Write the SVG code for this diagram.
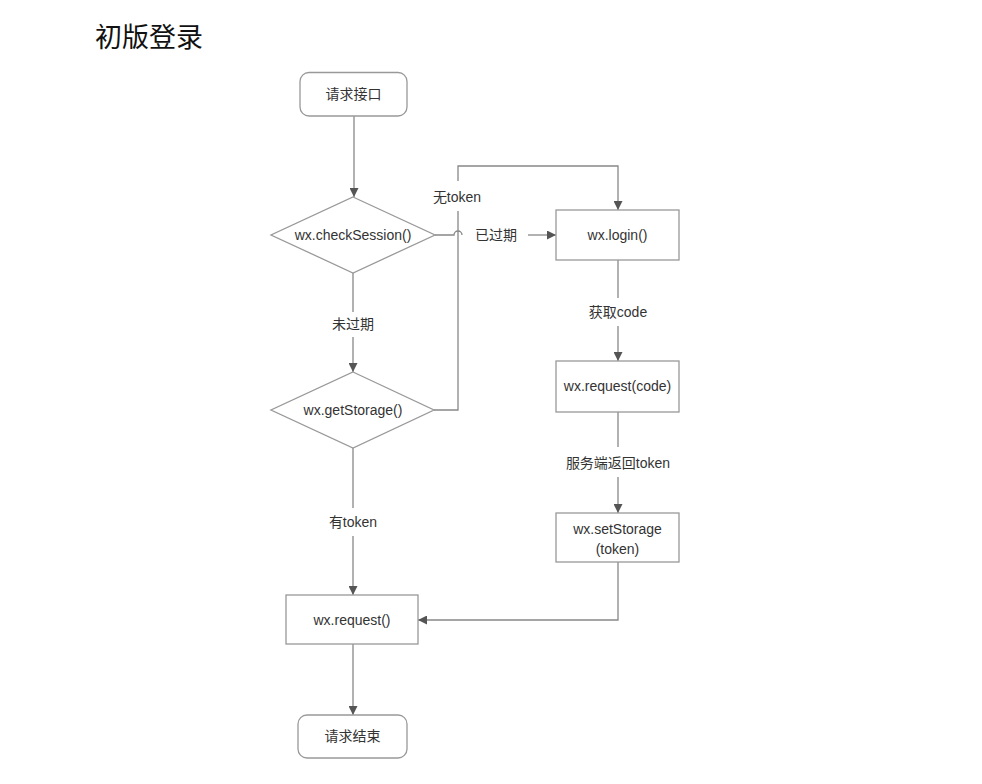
<svg xmlns="http://www.w3.org/2000/svg" width="982" height="784" viewBox="0 0 982 784">
<defs>
<marker id="arr" markerUnits="userSpaceOnUse" markerWidth="10" markerHeight="9" refX="9" refY="4.5" orient="auto">
<path d="M0,0 L9,4.5 L0,9 z" fill="#555"/>
</marker>
<style>
.box{fill:#fff;stroke:#999;stroke-width:1.3}
.t{font-family:"Liberation Sans","Noto Sans CJK SC",sans-serif;font-size:14px;fill:#333;text-anchor:middle}
.c{fill:none;stroke:#888;stroke-width:1.3}
.title{font-family:"Liberation Serif","Noto Sans CJK SC",serif;font-size:27px;fill:#111}
</style>
</defs>
<rect width="982" height="784" fill="#fff"/>
<text class="title" x="95" y="47">初版登录</text>
<g id="connectors">
<path class="c" d="M354,116 V197" marker-end="url(#arr)"/>
<path class="c" d="M435,235 H454 A4,4 0 0 1 462,235"/>
<path class="c" d="M528,235 H556" marker-end="url(#arr)"/>
<path class="c" d="M353,273 V312"/>
<path class="c" d="M353,337 V372" marker-end="url(#arr)"/>
<path class="c" d="M434,410 H458 V211"/>
<path class="c" d="M458,181 V166 H618 V210" marker-end="url(#arr)"/>
<path class="c" d="M353,448 V508"/>
<path class="c" d="M353,536 V595" marker-end="url(#arr)"/>
<path class="c" d="M353,644 V715" marker-end="url(#arr)"/>
<path class="c" d="M618,260 V298"/>
<path class="c" d="M618,326 V361" marker-end="url(#arr)"/>
<path class="c" d="M618,412 V447"/>
<path class="c" d="M618,477 V513" marker-end="url(#arr)"/>
<path class="c" d="M618,562 V620 H418" marker-end="url(#arr)"/>
<text class="t" x="496" y="240">已过期</text>
<text class="t" x="457" y="202">无token</text>
<text class="t" x="353" y="329">未过期</text>
<text class="t" x="353" y="527">有token</text>
<text class="t" x="618" y="317">获取code</text>
<text class="t" x="618" y="468">服务端返回token</text>
</g>
<g id="start">
<rect class="box" x="300" y="72.5" width="107" height="43.5" rx="9"/>
<text class="t" x="353.5" y="99">请求接口</text>
</g>
<g id="checkSession">
<polygon class="box" points="353,197 435,235 353,273 271,235"/>
<text class="t" x="353" y="240">wx.checkSession()</text>
</g>
<g id="getStorage">
<polygon class="box" points="353,372 434,410 353,448 271,410"/>
<text class="t" x="353" y="415">wx.getStorage()</text>
</g>
<g id="login">
<rect class="box" x="556" y="210" width="123" height="50"/>
<text class="t" x="617.5" y="240">wx.login()</text>
</g>
<g id="requestCode">
<rect class="box" x="556" y="361" width="123" height="51"/>
<text class="t" x="617.5" y="391">wx.request(code)</text>
</g>
<g id="setStorage">
<rect class="box" x="556" y="513" width="123" height="49"/>
<text class="t" x="617.5" y="534">wx.setStorage</text>
<text class="t" x="617.5" y="554">(token)</text>
</g>
<g id="request">
<rect class="box" x="286" y="595" width="132" height="49"/>
<text class="t" x="352" y="625">wx.request()</text>
</g>
<g id="end">
<rect class="box" x="298" y="715" width="109" height="43" rx="9"/>
<text class="t" x="352.5" y="741">请求结束</text>
</g>
</svg>
